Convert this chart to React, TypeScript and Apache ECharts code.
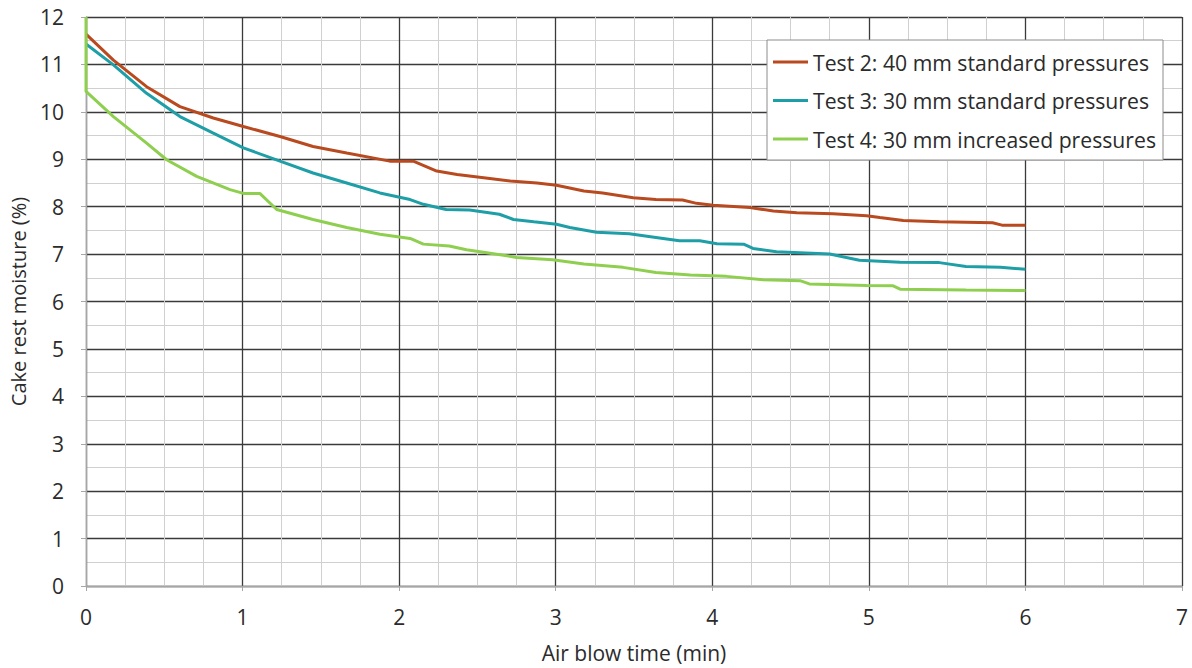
import React, { useEffect, useRef } from "react";
import * as echarts from "echarts";

const test2Time = [0, 0.175, 0.387, 0.6, 0.813, 1.005, 1.239, 1.45, 1.665, 1.94, 2.09, 2.24, 2.37, 2.54, 2.71, 2.88, 3.005, 3.18, 3.3, 3.495, 3.64, 3.81, 3.9, 4.005, 4.24, 4.39, 4.54, 4.77, 4.985, 5.07, 5.22, 5.45, 5.79, 5.85, 6.0];
const test2Moisture = [11.64, 11.09, 10.53, 10.11, 9.87, 9.69, 9.48, 9.27, 9.13, 8.96, 8.96, 8.75, 8.68, 8.61, 8.54, 8.5, 8.45, 8.33, 8.29, 8.19, 8.15, 8.14, 8.07, 8.03, 7.98, 7.91, 7.87, 7.85, 7.81, 7.77, 7.71, 7.68, 7.66, 7.61, 7.61];

const test3Time = [0, 0.175, 0.387, 0.6, 0.813, 1.005, 1.239, 1.45, 1.665, 1.877, 2.07, 2.155, 2.3, 2.45, 2.64, 2.73, 2.86, 3.005, 3.09, 3.26, 3.47, 3.64, 3.79, 3.92, 4.03, 4.2, 4.26, 4.41, 4.56, 4.75, 4.94, 5.2, 5.45, 5.62, 5.84, 6.0];
const test3Moisture = [11.43, 10.99, 10.39, 9.9, 9.55, 9.24, 8.96, 8.71, 8.5, 8.29, 8.15, 8.05, 7.94, 7.93, 7.84, 7.73, 7.68, 7.63, 7.56, 7.46, 7.43, 7.35, 7.28, 7.28, 7.22, 7.21, 7.12, 7.05, 7.03, 7.0, 6.87, 6.83, 6.82, 6.74, 6.72, 6.68];

const test4Time = [0, 0, 0.175, 0.387, 0.515, 0.707, 0.92, 1.005, 1.11, 1.218, 1.45, 1.665, 1.877, 2.07, 2.155, 2.32, 2.43, 2.56, 2.75, 2.98, 3.18, 3.43, 3.64, 3.86, 4.09, 4.325, 4.56, 4.62, 4.985, 5.155, 5.2, 5.62, 6.0];
const test4Moisture = [12, 10.43, 9.9, 9.34, 8.99, 8.64, 8.36, 8.28, 8.28, 7.94, 7.73, 7.56, 7.42, 7.33, 7.21, 7.17, 7.09, 7.03, 6.93, 6.88, 6.79, 6.72, 6.61, 6.56, 6.53, 6.46, 6.44, 6.37, 6.34, 6.33, 6.26, 6.24, 6.23];

const seriesNames = [
  "Test 2: 40 mm standard pressures",
  "Test 3: 30 mm standard pressures",
  "Test 4: 30 mm increased pressures",
];
const seriesColors = ["#B94A1F", "#1E9EA6", "#8FCF4F"];

const zip = (xs: number[], ys: number[]) => xs.map((x, i) => [x, ys[i]]);

export default function App() {
  const ref = useRef<HTMLDivElement>(null);
  useEffect(() => {
    if (!ref.current) return;
    const chart = echarts.init(ref.current, undefined, { renderer: "svg" });
    const font = "Open Sans";
    const textColor = "#2b2b2b";
    const data = [
      zip(test2Time, test2Moisture),
      zip(test3Time, test3Moisture),
      zip(test4Time, test4Moisture),
    ];
    chart.setOption({
      animation: false,
      backgroundColor: "#fff",
      textStyle: { fontFamily: font },
      grid: { left: 86, right: 10, top: 17, bottom: 80 },
      legend: {
        orient: "vertical",
        left: 767,
        top: 40,
        padding: [11, 7, 10, 6],
        itemGap: 16.5,
        itemWidth: 35,
        itemHeight: 3,
        icon: "rect",
        backgroundColor: "#fff",
        borderColor: "#8c8c8c",
        borderWidth: 1,
        borderRadius: 0,
        textStyle: { fontFamily: font, fontSize: 21.2, color: textColor, lineHeight: 22 },
        data: seriesNames,
      },
      xAxis: {
        type: "value",
        min: 0,
        max: 7,
        interval: 1,
        name: "Air blow time (min)",
        nameLocation: "middle",
        nameGap: 56,
        nameTextStyle: { fontFamily: font, fontSize: 21, color: textColor },
        axisLine: { show: true, lineStyle: { color: "#a6a6a6", width: 1.3 } },
        axisTick: { show: true, length: 5, lineStyle: { color: "#a6a6a6" } },
        axisLabel: { margin: 20, fontFamily: font, fontSize: 21, color: textColor },
        splitLine: { show: true, lineStyle: { color: "#3a3a3a", width: 1.3 } },
        minorTick: { show: false, splitNumber: 4 },
        minorSplitLine: { show: true, lineStyle: { color: "#d0d0d0", width: 1 } },
      },
      yAxis: {
        type: "value",
        min: 0,
        max: 12,
        interval: 1,
        name: "Cake rest moisture (%)",
        nameLocation: "middle",
        nameRotate: 90,
        nameGap: 58,
        nameTextStyle: { fontFamily: font, fontSize: 20, color: textColor },
        axisLine: { show: true, lineStyle: { color: "#a6a6a6", width: 1.3 } },
        axisTick: { show: true, length: 5, lineStyle: { color: "#a6a6a6" } },
        axisLabel: { margin: 22, fontFamily: font, fontSize: 21, color: textColor },
        splitLine: { show: true, lineStyle: { color: "#3a3a3a", width: 1.3 } },
        minorTick: { show: false, splitNumber: 2 },
        minorSplitLine: { show: true, lineStyle: { color: "#d0d0d0", width: 1 } },
      },
      series: seriesNames.map((name, i) => ({
        name,
        type: "line",
        data: data[i],
        showSymbol: false,
        symbol: "none",
        smooth: false,
        color: seriesColors[i],
        lineStyle: { width: 3, color: seriesColors[i] },
      })),
    });
    return () => chart.dispose();
  }, []);
  return (
    <div
      ref={ref}
      style={{ position: "fixed", left: 0, top: 0, width: 1192, height: 668, background: "#fff" }}
    />
  );
}
